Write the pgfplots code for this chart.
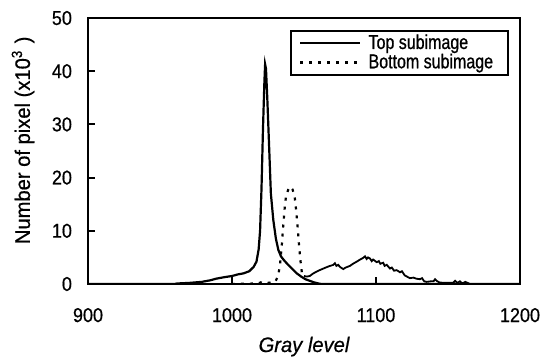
\documentclass[border=0pt]{standalone}
\usepackage{fontspec}
\setmainfont{Liberation Sans}[FakeStretch=0.9, FakeBold=0.6]
\newfontfamily\labelfont{Liberation Sans}[FakeStretch=0.96, FakeBold=0.6]
\newfontfamily\legfont{Liberation Sans}[FakeStretch=0.8, FakeBold=0.8]
\usepackage{pgfplots}
\pgfplotsset{compat=1.18}
\begin{document}
\begin{tikzpicture}
\useasboundingbox (-44pt,-37.5pt) rectangle (230pt,142pt);
\begin{axis}[
  scale only axis,
  width=216pt, height=133pt,
  xmin=900, xmax=1200, ymin=0, ymax=50,
  xtick={900,1000,1100,1200},
  ytick={0,10,20,30,40,50},
  tick align=inside, tick pos=left,
  major tick length=3.5pt,
  axis line style={line width=1.1pt},
  every tick/.style={line width=1pt, black},
  /pgf/number format/assume math mode=true,
  /pgf/number format/set thousands separator={},
  ticklabel style={font=\fontsize{10}{12}\selectfont},
  xticklabel shift=8.5pt,
  yticklabel shift=4.5pt,
  xlabel={\itshape Gray level},
  ylabel={Number of pixel (x10$^{\mathrm{3}}$ )},
  xlabel style={font=\labelfont\fontsize{10.5}{12}\selectfont, at={(axis description cs:0.5,-0.2353)}, anchor=center},
  ylabel style={font=\labelfont\fontsize{10.5}{12}\selectfont, at={(axis description cs:-0.1505,0.54)}, anchor=center},
  legend style={at={(0.975,0.955)}, anchor=north east, draw=black, line width=1.1pt,
    font=\legfont\fontsize{10}{11}\selectfont, inner xsep=4pt, inner ysep=0.5pt,
    nodes={inner xsep=3.5pt, inner ysep=1.2pt}, row sep=-1.5pt},
  legend cell align=left,
  legend image code/.code={\draw[#1] (0pt,0pt) -- (30pt,0pt);},
]
\addplot[black, line width=1.1pt] coordinates {
(900,0) (960,0) (962,0.1) (970,0.2) (979,0.4) (985,0.7) (989,1.0) (995,1.3) (1000,1.5)
(1004,1.8) (1008,2.0) (1012,2.4) (1015,3.2) (1017,4.2) (1018.5,6.5) (1019.5,10)
(1020.5,18) (1021.5,29) (1022.5,38) (1023,41.3) (1023.6,40.5) (1024.5,35) (1025.9,25)
(1027,17) (1028.7,12) (1030.5,8.5) (1032.2,6.4) (1034,5.2) (1036,4.5) (1039,3.6)
(1042,2.8) (1045,2.0) (1048,1.4) (1051,0.9) (1054,0.6) (1057,0.3) (1060,0.1) (1062,0) (1200,0)
};
\addlegendentry{Top subimage}
\addplot[black, line width=1.1pt, dash pattern=on 1.5pt off 3pt] coordinates {
(1000,0) (1018,0.1) (1020,0.3) (1022,0.1) (1030,0.4) (1032,1.5) (1033.3,3.5) (1034.5,7)
(1035.6,11) (1036.5,14) (1037.5,16.5) (1039,17.7) (1040.5,18.3) (1042,17.8) (1043.5,16.5)
(1044.5,14) (1045.5,11) (1046.5,7.5) (1047.5,4.5) (1048.5,2.2) (1050,1.5)
};
\addlegendentry{Bottom subimage}
\addplot[black, line width=0.9pt, forget plot] coordinates {
(1050,1.5) (1052,1.4) (1054,1.5) (1056.5,2.0) (1060,2.5) (1063.4,2.9) (1067,3.3) (1070.4,3.6)
(1071.5,3.9) (1072.5,3.4) (1073.8,3.6) (1075,3.2) (1077.3,2.8) (1079,3.1) (1081.9,3.4)
(1084,3.8) (1086.6,4.2) (1089,4.6) (1091,4.9) (1092.4,5.2) (1093.5,4.7) (1094.5,5.0)
(1095.8,4.8) (1097,4.3) (1098,4.6) (1100.5,4.1) (1102,4.3) (1103,3.8) (1105,4.0) (1106,3.4)
(1107.5,3.6) (1109.7,2.9) (1111,3.1) (1112.5,2.5) (1114.4,2.6) (1116.7,2.2) (1118,2.4)
(1120,1.6) (1123.6,1.1) (1126,1.2) (1128,1.0) (1130.6,0.9) (1132,1.1) (1133.5,0.5)
(1135.2,0.4) (1138,0.5) (1140,0.5) (1141,0.9) (1142.1,0.6) (1144,0.3) (1145.6,0.25)
(1150,0.25) (1153.7,0.25) (1155,0.6) (1156.5,0.2) (1158.3,0.5) (1160,0.1) (1162,0.4)
(1165.3,0) (1200,0)
};
\end{axis}
\end{tikzpicture}
\end{document}
